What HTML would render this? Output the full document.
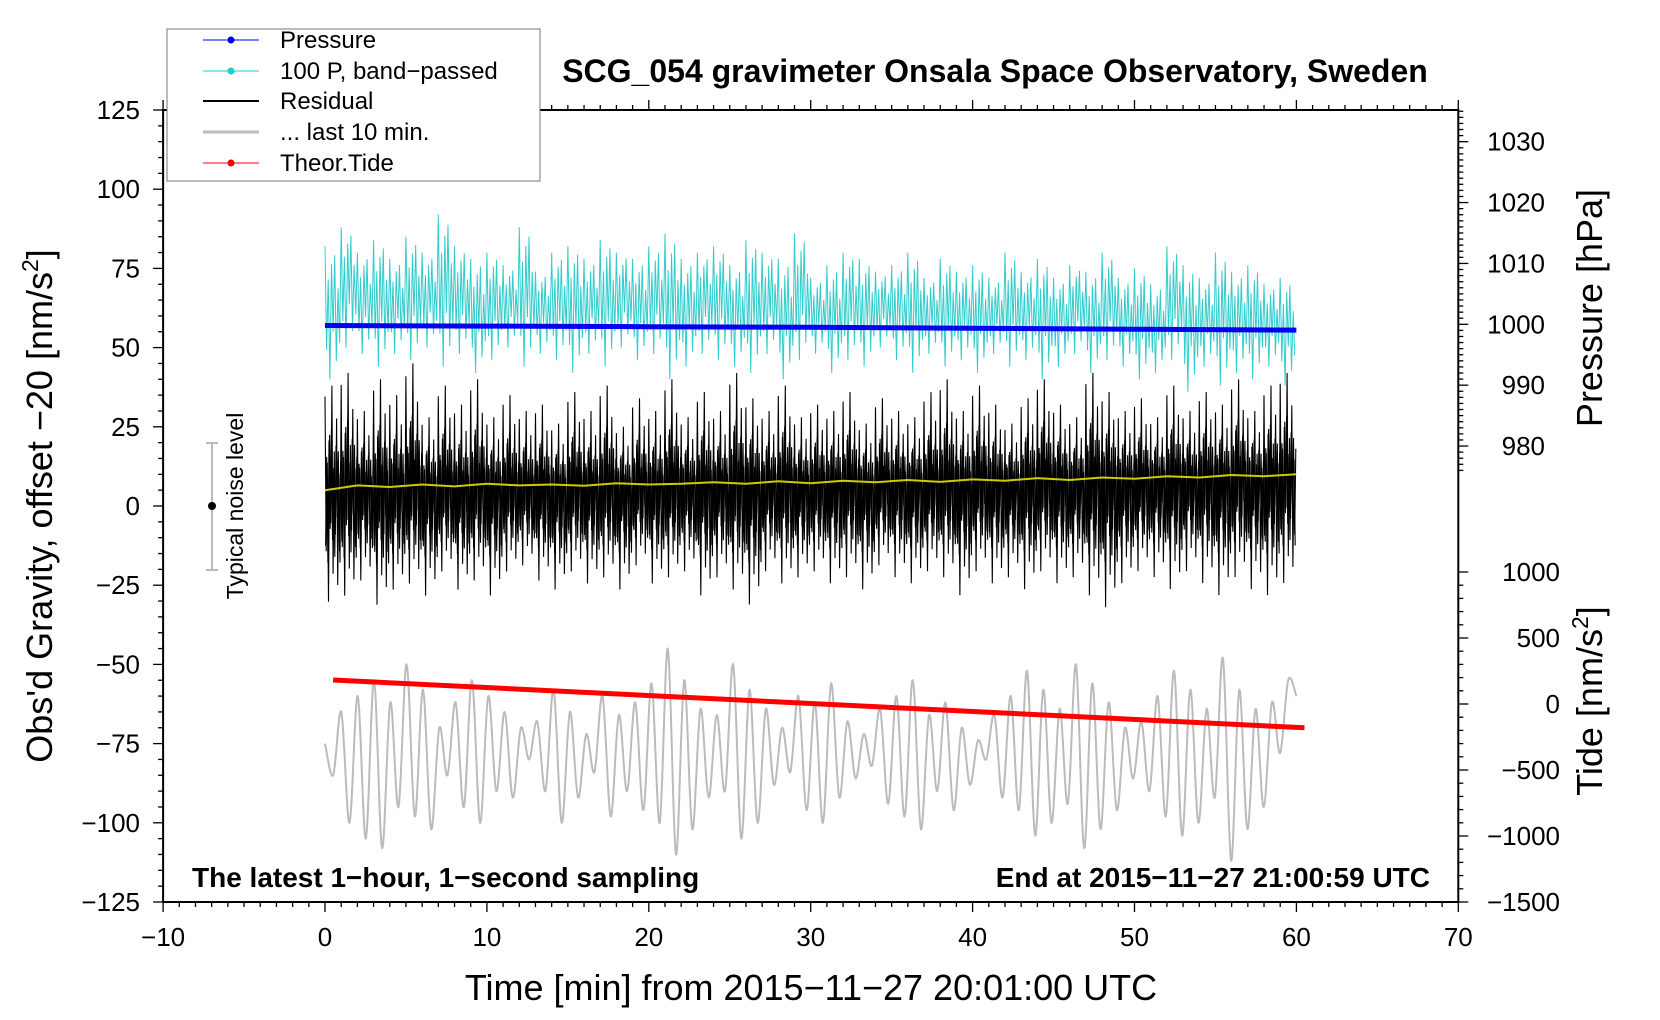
<!DOCTYPE html>
<html><head><meta charset="utf-8"><style>
html,body{margin:0;padding:0;background:#fff;}
svg{display:block;font-family:"Liberation Sans",Arial,sans-serif;}
</style></head><body>
<svg id="chart" width="1660" height="1020" viewBox="0 0 1660 1020" xmlns="http://www.w3.org/2000/svg">
<rect width="1660" height="1020" fill="#fff"/>
<g id="data-layer"></g>
<g id="axes-layer"></g>
<text x="995" y="82" font-size="32" font-weight="bold" text-anchor="middle">SCG_054 gravimeter Onsala Space Observatory, Sweden</text>
<text x="192" y="887" font-size="28" font-weight="bold">The latest 1−hour, 1−second sampling</text>
<text x="1430" y="887" font-size="28" font-weight="bold" text-anchor="end">End at 2015−11−27 21:00:59 UTC</text>
<text x="811" y="1000" font-size="36" text-anchor="middle">Time [min] from 2015−11−27 20:01:00 UTC</text>
<text transform="translate(52,506) rotate(-90)" font-size="36" text-anchor="middle">Obs'd Gravity, offset −20 [nm/s<tspan font-size="23" dy="-14">2</tspan><tspan dy="14">]</tspan></text>
<text transform="translate(1602,308) rotate(-90)" font-size="36" text-anchor="middle">Pressure [hPa]</text>
<text transform="translate(1602,701) rotate(-90)" font-size="36" text-anchor="middle">Tide [nm/s<tspan font-size="23" dy="-14">2</tspan><tspan dy="14">]</tspan></text>
<g>
<line x1="212" y1="443" x2="212" y2="570" stroke="#bbb" stroke-width="2"/>
<line x1="206" y1="443" x2="218" y2="443" stroke="#bbb" stroke-width="2"/>
<line x1="206" y1="570" x2="218" y2="570" stroke="#bbb" stroke-width="2"/>
<circle cx="212" cy="506" r="4" fill="#000"/>
<text transform="translate(243,506) rotate(-90)" font-size="23" text-anchor="middle">Typical noise level</text>
</g>
<g>
<rect x="167" y="29" width="373" height="152" fill="#fff" stroke="#777" stroke-width="1"/>
<g><line x1="203" y1="40" x2="259" y2="40" stroke="#0000ee" stroke-width="1"/><circle cx="231" cy="40" r="3.5" fill="#0000ee"/><text x="280" y="48" font-size="24">Pressure</text></g>
<g><line x1="203" y1="71" x2="259" y2="71" stroke="#22cccc" stroke-width="1"/><circle cx="231" cy="71" r="3.5" fill="#22cccc"/><text x="280" y="79" font-size="24">100 P, band−passed</text></g>
<g><line x1="203" y1="101" x2="259" y2="101" stroke="#000" stroke-width="2"/><text x="280" y="109" font-size="24">Residual</text></g>
<g><line x1="203" y1="132" x2="259" y2="132" stroke="#bbb" stroke-width="3"/><text x="280" y="140" font-size="24">... last 10 min.</text></g>
<g><line x1="203" y1="163" x2="259" y2="163" stroke="#ff0000" stroke-width="1"/><circle cx="231" cy="163" r="3.5" fill="#ff0000"/><text x="280" y="171" font-size="24">Theor.Tide</text></g>
</g>
</svg>
<script>
// ---- data ----
const xTicks = [-10,0,10,20,30,40,50,60,70];
const leftTicks = [125,100,75,50,25,0,-25,-50,-75,-100,-125];
const pressTicks = [1030,1020,1010,1000,990,980];
const tideTicks = [1000,500,0,-500,-1000,-1500];
const pressTime = [0,10,20,30,40,50,60];
const pressVals = [999.8,999.7,999.6,999.5,999.35,999.2,999.05];
const tideTime = [0.5,60.5];
const tideVals = [182,-180];
const yellowTime = [0,2,4,6,8,10,12,14,16,18,20,22,24,26,28,30,32,34,36,38,40,42,44,46,48,50,52,54,56,58,60];
const yellowVals = [5,6.5,6,6.8,6.2,7,6.5,6.8,6.4,7.2,6.8,7,7.5,7,7.8,7.2,8,7.5,8.2,7.6,8.4,8,8.8,8.2,9,8.6,9.4,9,9.8,9.4,10];
const resHi = [38,42,30,40,35,45,28,38,32,40,28,35,30,32,26,36,30,38,25,34,30,40,28,36,30,42,34,30,38,28,32,30,36,26,34,30,28,36,40,30,38,32,26,34,40,32,28,42,36,30,34,28,38,30,36,32,40,30,38,42];
const resLo = [-32,-30,-25,-33,-28,-26,-30,-22,-28,-25,-30,-22,-20,-25,-28,-22,-26,-24,-28,-20,-26,-24,-22,-30,-24,-28,-33,-22,-26,-24,-22,-26,-24,-28,-20,-24,-26,-22,-24,-30,-22,-26,-24,-28,-22,-26,-24,-30,-34,-26,-22,-24,-28,-22,-26,-30,-24,-28,-30,-26];
const cyanHi = [82,88,80,84,78,85,80,92,82,78,80,76,88,74,80,82,78,84,80,78,82,86,78,80,82,76,84,80,78,86,72,76,80,78,74,76,80,72,78,74,76,72,80,74,78,72,76,74,80,72,75,70,82,76,72,80,74,76,70,72];
const cyanLo = [40,50,48,44,48,46,50,44,48,42,46,50,44,48,46,42,48,44,50,46,48,40,44,48,46,44,42,48,40,46,48,42,46,44,50,46,42,48,44,46,42,48,44,46,40,44,48,42,46,44,40,42,46,36,44,38,42,40,44,38];
const grayVals = [-75,-85,-65,-100,-60,-105,-55,-108,-62,-95,-50,-98,-58,-102,-70,-85,-62,-95,-55,-100,-60,-90,-65,-92,-70,-80,-68,-90,-58,-100,-65,-92,-72,-84,-60,-98,-66,-90,-62,-96,-56,-100,-45,-110,-55,-102,-64,-92,-66,-90,-50,-105,-58,-100,-64,-88,-70,-84,-60,-96,-62,-100,-56,-92,-68,-86,-72,-82,-64,-94,-60,-98,-55,-102,-66,-90,-62,-96,-70,-88,-74,-80,-66,-92,-60,-96,-52,-104,-58,-100,-64,-94,-50,-108,-56,-102,-62,-96,-70,-86,-68,-90,-60,-98,-52,-104,-58,-100,-64,-92,-48,-112,-58,-102,-64,-95,-62,-78,-55,-60];

// ---- scales ----
const X = t => 325 + t*16.19;
const YL = v => 902 - (v+125)*3.168;
const YP = p => 324.3 - (p-1000)*6.087;
const YT = v => 902 - (v+1500)*0.132;
const NS = 'http://www.w3.org/2000/svg';
const dataG = document.getElementById('data-layer');
const axG = document.getElementById('axes-layer');
function mk(tag, attrs, parent){const e=document.createElementNS(NS,tag);for(const k in attrs)e.setAttribute(k,attrs[k]);parent.appendChild(e);return e;}
function interp(ts, vs, t){for(let i=0;i<ts.length-1;i++){if(t<=ts[i+1]){const f=(t-ts[i])/(ts[i+1]-ts[i]);return vs[i]+f*(vs[i+1]-vs[i]);}}return vs[vs.length-1];}

// gray last-10-min (smooth curve through points)
{
  const P = grayVals.map((v,i)=>[X(i*60/(grayVals.length-1)), YL(v)]);
  let d = 'M'+P[0][0].toFixed(1)+','+P[0][1].toFixed(1);
  for(let i=0;i<P.length-1;i++){
    const p0=P[Math.max(0,i-1)],p1=P[i],p2=P[i+1],p3=P[Math.min(P.length-1,i+2)];
    const c1=[p1[0]+(p2[0]-p0[0])/6,p1[1]+(p2[1]-p0[1])/6];
    const c2=[p2[0]-(p3[0]-p1[0])/6,p2[1]-(p3[1]-p1[1])/6];
    d+=' C'+c1.map(n=>n.toFixed(1)).join(',')+' '+c2.map(n=>n.toFixed(1)).join(',')+' '+p2[0].toFixed(1)+','+p2[1].toFixed(1);
  }
  const e = mk('path',{d:d,fill:'none',stroke:'#bbb','stroke-width':2},dataG);
  
  
}
// cyan band-passed
{
  const pat=[1,-0.6,0.45,-1,0.7,-0.35,0.85,-0.75,0.3,-0.5];
  let pts=[];
  for(let i=0;i<cyanHi.length;i++){
    const c=(cyanHi[i]+cyanLo[i])/2+2;
    for(let k=0;k<pat.length;k++){
      const f=pat[k]; const v=f>0?c+f*(cyanHi[i]-c):c+f*(c-cyanLo[i]);
      pts.push(X(i+k/pat.length).toFixed(1)+','+YL(v).toFixed(1));
    }
  }
  const e=mk('polyline',{points:pts.join(' '),fill:'none',stroke:'#33cccc','stroke-width':1},dataG);
  
  
}
// pressure
{
  const pts=pressTime.map((t,i)=>X(t).toFixed(1)+','+YP(pressVals[i]).toFixed(1)).join(' ');
  const e=mk('polyline',{points:pts,fill:'none',stroke:'#0000ee','stroke-width':5},dataG);
  
  
}
// residual
{
  const pats=[[0.9,-0.5,0.3,-0.95,0.55,-0.25,1,-0.7,0.4,-0.35,0.7,-0.8,0.2,-0.6],[-0.45,0.35,-0.6,0.5,-0.3,0.6,-0.4,0.25,-0.55,0.45,-0.2,0.4,-0.5,0.3]];
  pats.forEach((pat,pi)=>{
    let pts=[];
    for(let i=0;i<resHi.length;i++){
      const c=interp(yellowTime,yellowVals,i+0.5)-2;
      for(let k=0;k<pat.length;k++){
        const t=i+(k+pi*0.5)/pat.length;
        const f=pat[k]; const v=f>0?c+f*(resHi[i]-c):c+f*(c-resLo[i]);
        pts.push(X(t).toFixed(1)+','+YL(v).toFixed(1));
      }
    }
    const e=mk('polyline',{points:pts.join(' '),fill:'none',stroke:'#000','stroke-width':1.1},dataG);
    
    
  });
}
// yellow running mean
{
  const pts=yellowTime.map((t,i)=>X(t).toFixed(1)+','+YL(yellowVals[i]).toFixed(1)).join(' ');
  const e=mk('polyline',{points:pts,fill:'none',stroke:'#cccc00','stroke-width':2},dataG);
  
  
}
// tide
{
  const pts=tideTime.map((t,i)=>X(t).toFixed(1)+','+YT(tideVals[i]).toFixed(1)).join(' ');
  const e=mk('polyline',{points:pts,fill:'none',stroke:'#ff0000','stroke-width':5},dataG);
  
  
}

// ---- axes ----
const L=X(-10), R=X(70), T=YL(125), B=YL(-125);
{
  const f=mk('rect',{x:L,y:T,width:R-L,height:B-T,fill:'none',stroke:'#000','stroke-width':2},axG);
  
  
}
function tick(x1,y1,x2,y2){mk('line',{x1,y1,x2,y2,stroke:'#000','stroke-width':1.3},axG);}
for(let t=-10;t<=70;t++){const x=X(t);const len=t%10===0?10:5;tick(x,B,x,B+len);tick(x,T,x,T-len);}
xTicks.forEach(t=>{const e=mk('text',{x:X(t),y:B+44,'font-size':26,'text-anchor':'middle'},axG);e.textContent=String(t).replace('-','−');
  
  });
for(let v=-125;v<=125;v+=5){const y=YL(v);tick(L,y,L-(v%25===0?10:5),y);}
leftTicks.forEach(v=>{const e=mk('text',{x:140,y:YL(v)+9,'font-size':26,'text-anchor':'end'},axG);e.textContent=String(v).replace('-','−');
  
  });
for(let p=976;p<=1035;p++){const y=YP(p);if(y<T)continue;tick(R,y,R+(p%10===0?10:5),y);}
pressTicks.forEach(p=>{const e=mk('text',{x:1545,y:YP(p)+9,'font-size':26,'text-anchor':'end'},axG);e.textContent=String(p);
  
  });
for(let v=-1500;v<=1000;v+=100){const y=YT(v);tick(R,y,R+(v%500===0?10:5),y);}
tideTicks.forEach(v=>{const e=mk('text',{x:1560,y:YT(v)+9,'font-size':26,'text-anchor':'end'},axG);e.textContent=String(v).replace('-','−');
  
  });
</script>
</body></html>
